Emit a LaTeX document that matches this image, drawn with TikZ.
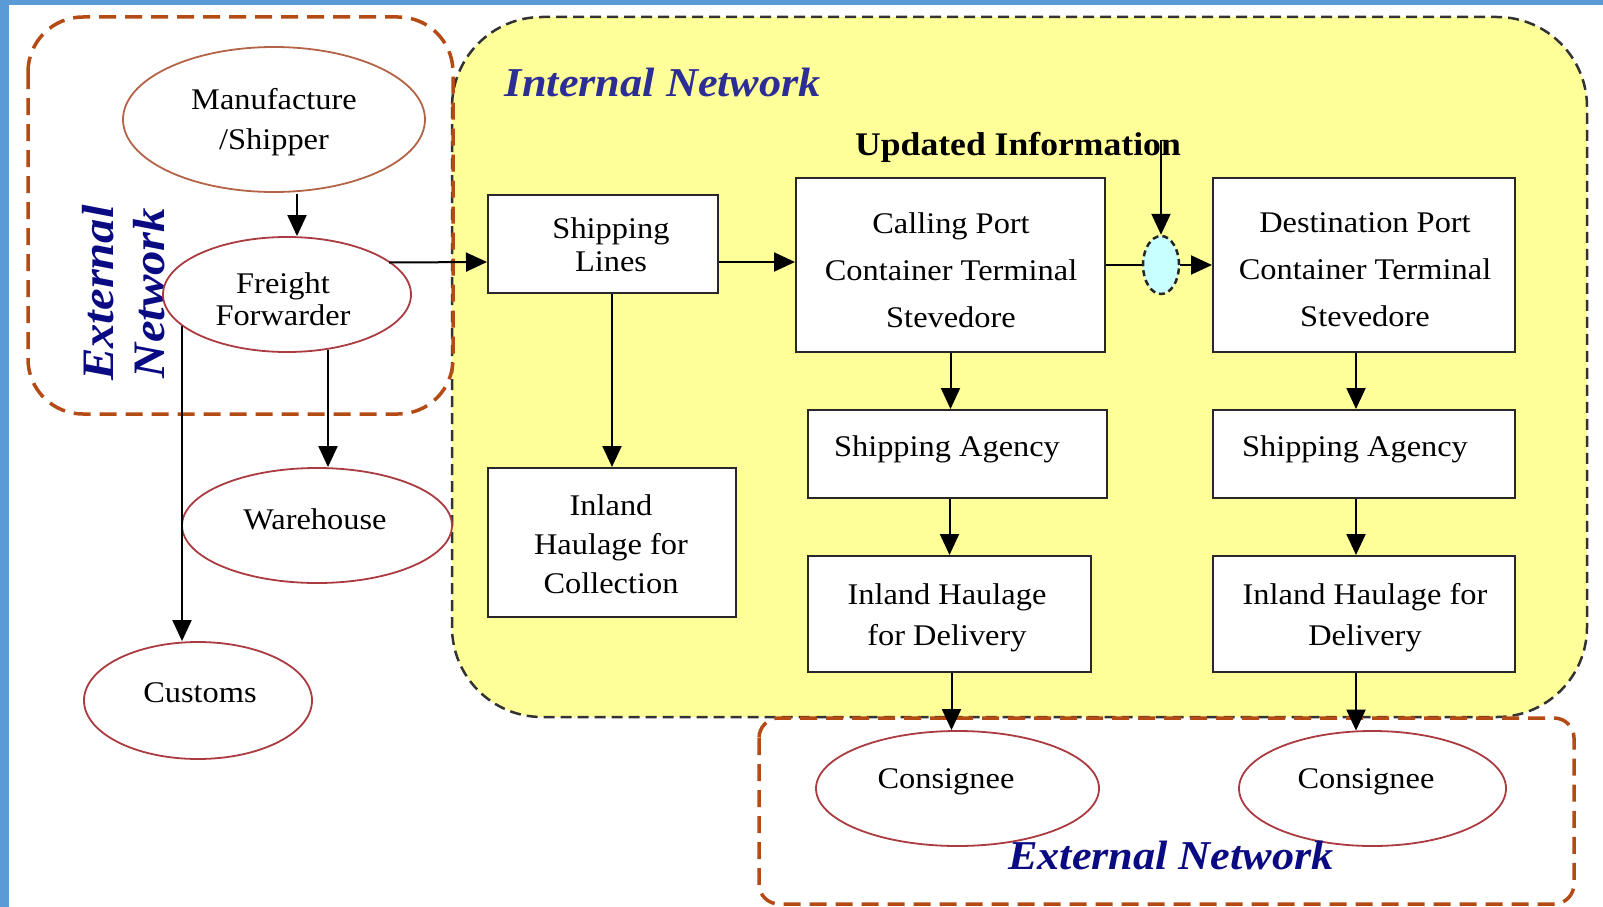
\documentclass[tikz,border=0pt]{standalone}
\usepackage{fontspec}
\setmainfont{Liberation Serif}[FakeStretch=1.08]
\usetikzlibrary{arrows.meta,shapes.geometric,calc}
\definecolor{bluebar}{RGB}{91,155,213}
\definecolor{yel}{RGB}{255,255,153}
\definecolor{brownd}{RGB}{180,75,20}
\definecolor{ellred}{RGB}{170,60,65}
\definecolor{ellbrown}{RGB}{180,100,70}
\definecolor{boxgray}{RGB}{40,40,40}
\definecolor{navyA}{RGB}{45,45,150}
\definecolor{navyB}{RGB}{10,10,130}
\definecolor{cyanish}{RGB}{200,255,255}
\newcommand\fsz[2]{\fontsize{#1}{#2}\selectfont}
\tikzset{
  ell/.style={ellipse, draw=ellred, line width=1.8pt, fill=white, inner sep=0pt},
  boxn/.style={rectangle, draw=boxgray, line width=2pt, fill=white, inner sep=0pt},
  txt/.style={align=center, inner sep=0pt},
  conn/.style={line width=2pt, draw=black},
  arr/.style={conn, -{Triangle[length=21pt,width=19pt]}},
  browndash/.style={draw=brownd, line width=3.5pt, dash pattern=on 17pt off 9pt},
  blackdash/.style={draw=black!80, line width=2.5pt, dash pattern=on 11pt off 6pt}
}
\begin{document}
\begin{tikzpicture}[x=1pt,y=-1pt]
\useasboundingbox (0,0) rectangle (1603,907);
% frame
\fill[bluebar] (0,0) rectangle (1603,5);
\fill[bluebar] (0,0) rectangle (9,907);
% internal network region
\fill[yel, rounded corners=90pt] (452,17) rectangle (1587,717);
\draw[blackdash, rounded corners=90pt] (452,17) rectangle (1587,717);
% external network regions
\draw[browndash, rounded corners=55pt] (28,17) rectangle (453,414);
\draw[browndash, rounded corners=20pt] (759,718) rectangle (1574,904);

% region labels
\node[txt, text=navyA, font=\fsz{41}{45}\bfseries\itshape] (intl) at (663,82) {Internal Network};
\node[txt, text=navyB, rotate=90, font=\fsz{45}{51}\bfseries\itshape] (extl) at (124,293) {External\\Network};

% ellipses
\node[ell, draw=ellbrown, minimum width=302pt, minimum height=145pt] (ms) at (274,119.5) {};
\node[txt, font=\fsz{30}{40}] (mst) at (274,122) {Manufacture\\/Shipper};
\node[ell, minimum width=248pt, minimum height=115pt] (ff) at (287,294.5) {};
\node[txt, font=\fsz{30}{32}] (fft) at (283,299) {Freight\\Forwarder};
\node[ell, minimum width=270pt, minimum height=115pt] (wh) at (317,525.5) {};
\node[txt, font=\fsz{30}{36}] (wht) at (315,519) {Warehouse};
\node[ell, minimum width=228pt, minimum height=117pt] (cu) at (198,700.5) {};
\node[txt, font=\fsz{30}{36}] (cut) at (200,693) {Customs};
\node[ell, minimum width=283pt, minimum height=115pt] (con1) at (957.5,788.5) {};
\node[txt, font=\fsz{30}{36}] (con1t) at (946,782) {Consignee};
\node[ell, minimum width=267pt, minimum height=115pt] (con2) at (1372.5,788.5) {};
\node[txt, font=\fsz{30}{36}] (con2t) at (1366,782) {Consignee};

% boxes
\node[boxn, minimum width=230pt, minimum height=98pt] (sl) at (603,244) {};
\node[txt, font=\fsz{30}{33}] (slt) at (611,245) {Shipping\\Lines};
\node[boxn, minimum width=248pt, minimum height=149pt] (ihc) at (612,542.5) {};
\node[txt, font=\fsz{30}{39}] (ihct) at (611,544) {Inland\\Haulage for\\Collection};
\node[boxn, minimum width=309pt, minimum height=174pt] (cp) at (950.5,265) {};
\node[txt, font=\fsz{30}{47}] (cpt) at (951,270) {Calling Port\\Container Terminal\\Stevedore};
\node[boxn, minimum width=302pt, minimum height=174pt] (dp) at (1364,265) {};
\node[txt, font=\fsz{30}{47}] (dpt) at (1365,270) {Destination Port\\Container Terminal\\Stevedore};
\node[boxn, minimum width=299pt, minimum height=88pt] (sa1) at (957.5,454) {};
\node[txt, font=\fsz{30}{36}] (sa1t) at (947,449) {Shipping Agency};
\node[boxn, minimum width=302pt, minimum height=88pt] (sa2) at (1364,454) {};
\node[txt, font=\fsz{30}{36}] (sa2t) at (1355,449) {Shipping Agency};
\node[boxn, minimum width=283pt, minimum height=116pt] (ih1) at (949.5,614) {};
\node[txt, font=\fsz{30}{41}] (ih1t) at (947,618) {Inland Haulage\\for Delivery};
\node[boxn, minimum width=302pt, minimum height=116pt] (ih2) at (1364,614) {};
\node[txt, font=\fsz{30}{41}] (ih2t) at (1365,618) {Inland Haulage for\\Delivery};

% junction ellipse and label
\node[ellipse, draw=black!85, fill=cyanish, line width=2.5pt, dash pattern=on 6pt off 4pt,
      minimum width=36pt, minimum height=58pt, inner sep=0pt] (ui) at (1161,265) {};
\node[txt, font=\fsz{33}{36}\bfseries] (upd) at (1018,147) {Updated Information};
\coordinate (updsrc) at (1161,140);

% connectors, external side
\draw[arr] ($(ms.south)+(23,1)$) -- ($(ff.north)+(10,0)$);
\draw[arr] ($(ff.south)+(41,-3)$) -- ($(wh.north)+(11,0)$);
\draw[arr] ($(ff.center)+(-105,31)$) -- ($(cu.north)+(-16,0)$);
\draw[arr] ($(ff.center)+(102,-32)$) -- ($(sl.west)+(0,18)$);

% internal network connectors
\draw[arr] ($(sl.east)+(0,18)$) -- ($(cp.west)+(0,-3)$);
\draw[arr] (sl.south -| ihc.north) -- (ihc.north);
\draw[conn] (cp.east) -- (ui.west);
\draw[arr] (ui.east) -- (dp.west);
\draw[arr] (updsrc) -- (ui.north);
\draw[arr] (cp.south) -- (cp.south |- sa1.north);
\draw[arr] (ih1.north |- sa1.south) -- (ih1.north);
\draw[arr] ($(ih1.south)+(2,0)$) -- ($(con1.north)+(-6,0)$);
\draw[arr] ($(dp.south)+(-8,0)$) -- ($(sa2.north)+(-8,0)$);
\draw[arr] ($(sa2.south)+(-8,0)$) -- ($(ih2.north)+(-8,0)$);
\draw[arr] ($(ih2.south)+(-8,0)$) -- ($(con2.north)+(-16.5,0.5)$);

\node[txt, text=navyB, font=\fsz{41}{45}\bfseries\itshape] (extb) at (1171,855) {External Network};
\end{tikzpicture}
\end{document}
